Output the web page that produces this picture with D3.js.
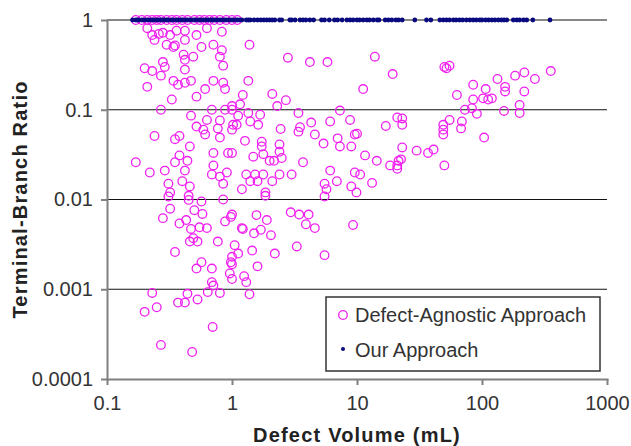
<!DOCTYPE html>
<html>
<head>
<meta charset="utf-8">
<script src="https://cdn.jsdelivr.net/npm/d3@7"></script>
<style>
  body { margin: 0; background: #fff; }
  svg { display: block; font-family: "Liberation Sans", Arial, sans-serif; }
  .axis path, .axis line { stroke: #808080; stroke-width: 2; }
  .axis text { font-size: 20px; fill: #333; }
  .axis-label { font-size: 20px; font-weight: bold; fill: #222; letter-spacing: 1.2px; }
  .legend-label { font-size: 20px; fill: #333; }
</style>
</head>
<body>
<div id="chart"></div>
<script>
'use strict';

const xTicks = [0.1, 1, 10, 100, 1000];
const yTicks = [0.0001, 0.001, 0.01, 0.1, 1];

// Defect-Agnostic Approach: [defect volume (mL), terminal-branch ratio]
const agnosticPoints = [
  [0.17, 1], [0.19, 1], [0.21, 1], [0.23, 1], [0.25, 1], [0.27, 1], [0.3, 1], [0.33, 1], [0.36, 1], [0.4, 1],
  [0.44, 1], [0.5, 1], [0.55, 1], [0.6, 1], [0.66, 1], [0.72, 1], [0.8, 1], [0.9, 1], [1.0, 1], [1.1, 1],
  [0.21, 0.81], [0.23, 0.68], [0.26, 0.70], [0.28, 0.72], [0.24, 0.60], [0.32, 0.68], [0.36, 0.76], [0.42, 0.76],
  [0.52, 0.68], [0.63, 0.81], [0.83, 0.74], [0.30, 0.53], [0.34, 0.50], [0.35, 0.52], [0.42, 0.60], [0.57, 0.50],
  [0.71, 0.53], [0.83, 0.46], [0.41, 0.41], [0.42, 0.36], [0.49, 0.39], [0.80, 0.39], [0.85, 0.31], [0.28, 0.34],
  [0.29, 0.30], [0.20, 0.29], [0.23, 0.27], [0.27, 0.24], [0.42, 0.28], [0.21, 0.18], [0.34, 0.21], [0.37, 0.19],
  [0.42, 0.20], [0.47, 0.21], [0.71, 0.21], [0.85, 0.20], [0.88, 0.17], [0.61, 0.17], [0.52, 0.14], [0.33, 0.13],
  [0.27, 0.10], [0.69, 0.10], [0.88, 0.10], [1.0, 0.10], [0.47, 0.086], [0.63, 0.077], [0.80, 0.076], [0.52, 0.065],
  [0.59, 0.060], [0.61, 0.053], [0.77, 0.062], [1.02, 0.068], [0.24, 0.051], [0.35, 0.047], [0.38, 0.051], [0.80, 0.049],
  [0.46, 0.039], [0.38, 0.031], [0.71, 0.033], [0.93, 0.033], [0.17, 0.026], [0.35, 0.026], [0.44, 0.027], [0.71, 0.024],
  [0.22, 0.020], [0.29, 0.021], [0.42, 0.021], [0.69, 0.019], [0.80, 0.018], [0.91, 0.020], [0.40, 0.016], [0.46, 0.014],
  [0.31, 0.015], [0.85, 0.015], [0.32, 0.012], [0.45, 0.011],
  [0.31, 0.0108], [0.45, 0.0099], [0.57, 0.0095], [0.85, 0.010], [0.32, 0.0079], [0.28, 0.0062], [0.50, 0.0076],
  [0.58, 0.0069], [0.38, 0.0054], [0.43, 0.0059], [0.47, 0.0047], [0.55, 0.0049], [0.63, 0.0048], [0.46, 0.0034],
  [0.49, 0.0037], [0.53, 0.0034], [0.77, 0.0034], [0.88, 0.0057], [0.98, 0.0064], [0.35, 0.0026], [0.57, 0.0020],
  [0.52, 0.0017], [0.69, 0.0017], [0.69, 0.0012], [0.71, 0.0011], [0.98, 0.0020], [0.96, 0.0015], [0.64, 0.00093],
  [0.80, 0.00091], [0.23, 0.00091], [0.44, 0.00089], [0.37, 0.00071], [0.42, 0.00071], [0.53, 0.00077], [0.25, 0.00063],
  [0.20, 0.00056], [0.70, 0.00038], [0.27, 0.00024], [0.48, 0.00020],
  [1.38, 0.53], [2.8, 0.38], [4.2, 0.34], [5.8, 0.34], [1.35, 0.21], [1.22, 0.146], [2.1, 0.15], [2.7, 0.128],
  [1.16, 0.115], [2.3, 0.11], [1.0, 0.11], [1.12, 0.086], [1.35, 0.092], [1.68, 0.088], [1.09, 0.068], [1.4, 0.074],
  [1.62, 0.068], [3.4, 0.092], [7.3, 0.098], [8.8, 0.077], [4.3, 0.072], [6.1, 0.074], [3.5, 0.064], [3.4, 0.057],
  [2.45, 0.061], [1.0, 0.060], [4.6, 0.053], [9.6, 0.053], [7.0, 0.048], [1.27, 0.045], [1.73, 0.044], [5.4, 0.042],
  [7.3, 0.039], [9.0, 0.039], [1.73, 0.039], [2.4, 0.041], [1.0, 0.033], [2.4, 0.034], [1.78, 0.032], [1.48, 0.030],
  [2.0, 0.027], [2.17, 0.027], [2.5, 0.029], [3.7, 0.026], [6.1, 0.021], [1.3, 0.019], [1.53, 0.019], [1.78, 0.019],
  [2.4, 0.019], [3.0, 0.019], [1.4, 0.016], [1.6, 0.016], [2.1, 0.016], [5.5, 0.015], [6.9, 0.016], [9.0, 0.014],
  [1.2, 0.013], [1.85, 0.012], [5.7, 0.013], [9.9, 0.012], [9.6, 0.020],
  [1.85, 0.011], [5.5, 0.0108], [1.0, 0.0068], [1.57, 0.0067], [1.9, 0.0059], [2.95, 0.0072], [3.45, 0.0068],
  [4.1, 0.0068], [3.9, 0.0053], [4.6, 0.0048], [9.3, 0.0052], [1.2, 0.0048], [1.22, 0.0047], [1.7, 0.0046],
  [1.5, 0.0042], [2.05, 0.0040], [1.05, 0.0031], [1.12, 0.0025], [1.0, 0.0023], [1.45, 0.0027], [2.2, 0.0025],
  [3.3, 0.0030], [5.5, 0.0024], [1.6, 0.0018], [1.0, 0.0019], [1.0, 0.0013], [1.25, 0.0014], [1.3, 0.0012], [1.38, 0.00088],
  [13.9, 0.39], [19.3, 0.25], [11.2, 0.17], [50, 0.30], [52, 0.29], [55, 0.31], [63, 0.146], [85, 0.19],
  [85, 0.13], [73, 0.10], [83, 0.104], [91, 0.09], [21, 0.082], [23, 0.08], [23, 0.068], [17, 0.066],
  [55, 0.077], [49, 0.068], [49, 0.06], [49, 0.053], [69, 0.074], [68, 0.062], [10, 0.054], [23, 0.038],
  [11.6, 0.031], [14.4, 0.027], [30, 0.035], [37, 0.033], [41, 0.036], [18.4, 0.024], [21, 0.024], [21.5, 0.027],
  [22.5, 0.028], [21, 0.022], [50, 0.024], [10.6, 0.019], [13.2, 0.0153],
  [355, 0.27], [184, 0.24], [218, 0.26], [265, 0.22], [133, 0.22], [153, 0.18], [153, 0.16], [107, 0.17],
  [218, 0.16], [102, 0.134], [112, 0.13], [120, 0.134], [200, 0.113], [150, 0.097], [200, 0.092], [104, 0.049]
];

// Our Approach: every defect ends at ratio 1
const ourPoints = [
  [0.16, 1], [0.17, 1], [0.175, 1], [0.18, 1], [0.19, 1], [0.2, 1], [0.21, 1], [0.22, 1], [0.23, 1], [0.24, 1],
  [0.25, 1], [0.26, 1], [0.27, 1], [0.28, 1], [0.29, 1], [0.3, 1], [0.31, 1], [0.33, 1], [0.34, 1], [0.36, 1],
  [0.37, 1], [0.39, 1], [0.4, 1], [0.42, 1], [0.44, 1], [0.46, 1], [0.48, 1], [0.5, 1], [0.52, 1], [0.55, 1],
  [0.57, 1], [0.6, 1], [0.62, 1], [0.65, 1], [0.68, 1], [0.7, 1], [0.73, 1], [0.76, 1], [0.8, 1], [0.83, 1],
  [0.87, 1], [0.9, 1], [0.95, 1], [1.0, 1], [1.05, 1], [1.1, 1], [1.15, 1], [1.2, 1], [1.3, 1], [1.35, 1],
  [1.4, 1], [1.5, 1], [1.6, 1], [1.7, 1], [1.8, 1], [1.9, 1], [2.0, 1], [2.1, 1], [2.2, 1], [2.4, 1],
  [2.5, 1], [2.9, 1], [3.0, 1], [3.2, 1], [3.5, 1], [3.7, 1], [3.9, 1], [4.2, 1], [4.5, 1],
  [5.2, 1], [5.5, 1], [6.0, 1], [6.6, 1], [7.0, 1], [7.6, 1],
  [8.3, 1], [8.8, 1], [9.3, 1], [10, 1], [10.5, 1], [11.2, 1], [12, 1], [12.6, 1], [13.5, 1], [14.5, 1], [15, 1],
  [16.8, 1], [17.8, 1], [19, 1], [20.5, 1], [21.5, 1], [23, 1], [29, 1], [36, 1], [39, 1],
  [46, 1], [49, 1], [52, 1], [55, 1], [59, 1], [62, 1], [66, 1], [70, 1], [75, 1], [80, 1], [85, 1],
  [90, 1], [96, 1], [100, 1], [107, 1], [113, 1], [120, 1], [127, 1], [135, 1], [143, 1], [150, 1], [158, 1],
  [178, 1], [190, 1], [200, 1], [215, 1], [228, 1], [255, 1], [350, 1]
];

const legendLabels = ['Defect-Agnostic Approach', 'Our Approach'];

const width = 631;
const height = 446;
const margin = {top: 20, right: 24, bottom: 67, left: 107};

const svg = d3.select('#chart').append('svg')
  .attr('width', width)
  .attr('height', height);

const x = d3.scaleLog()
  .domain([0.1, 1000])
  .range([margin.left, width - margin.right]);

const y = d3.scaleLog()
  .domain([0.0001, 1])
  .range([height - margin.bottom, margin.top]);

// horizontal gridlines at each decade
svg.append('g')
  .selectAll('line')
  .data(yTicks.slice(1))
  .enter().append('line')
  .attr('x1', x(0.1))
  .attr('x2', x(1000))
  .attr('y1', d => y(d))
  .attr('y2', d => y(d))
  .attr('stroke', '#111')
  .attr('stroke-width', 1.2);

svg.append('g')
  .attr('class', 'axis')
  .attr('transform', 'translate(0,' + (height - margin.bottom) + ')')
  .call(d3.axisBottom(x)
    .tickValues(xTicks)
    .tickFormat(d3.format('~g'))
    .tickSize(6)
    .tickSizeOuter(0)
    .tickPadding(11));

svg.append('g')
  .attr('class', 'axis')
  .attr('transform', 'translate(' + margin.left + ',0)')
  .call(d3.axisLeft(y)
    .tickValues(yTicks)
    .tickFormat(d3.format('~g'))
    .tickSize(6)
    .tickSizeOuter(0)
    .tickPadding(8));

svg.selectAll('.axis .domain').attr('stroke-linecap', 'square');

svg.append('g')
  .selectAll('circle')
  .data(agnosticPoints)
  .enter().append('circle')
  .attr('cx', d => x(d[0]))
  .attr('cy', d => y(d[1]))
  .attr('r', 4.3)
  .attr('fill', 'none')
  .attr('stroke', '#f020f0')
  .attr('stroke-width', 1.3);

svg.append('g')
  .selectAll('circle')
  .data(ourPoints)
  .enter().append('circle')
  .attr('cx', d => x(d[0]))
  .attr('cy', d => y(d[1]))
  .attr('r', 2.4)
  .attr('fill', '#0a0a80');

svg.append('text')
  .attr('class', 'axis-label')
  .attr('transform', 'translate(' + ((margin.left + width - margin.right) / 2) + ',' + 442 + ')')
  .style('text-anchor', 'middle')
  .text('Defect Volume (mL)');

svg.append('text')
  .attr('class', 'axis-label')
  .attr('transform', 'translate(27,' + ((margin.top + height - margin.bottom) / 2) + ') rotate(-90)')
  .style('text-anchor', 'middle')
  .text('Terminal-Branch Ratio');

// legend
const legend = svg.append('g')
  .attr('transform', 'translate(326,297)');

legend.append('rect')
  .attr('width', 274)
  .attr('height', 74)
  .attr('fill', '#fff')
  .attr('stroke', '#333')
  .attr('stroke-width', 1.5);

legend.append('circle')
  .attr('cx', 17)
  .attr('cy', 18)
  .attr('r', 4.3)
  .attr('fill', 'none')
  .attr('stroke', '#f020f0')
  .attr('stroke-width', 1.3);

legend.append('circle')
  .attr('cx', 17)
  .attr('cy', 52)
  .attr('r', 2)
  .attr('fill', '#0a0a80');

legend.selectAll('text')
  .data(legendLabels)
  .enter().append('text')
  .attr('class', 'legend-label')
  .attr('x', 29)
  .attr('y', (d, i) => 18 + i * 35)
  .attr('dy', '0.35em')
  .text(d => d);
</script>
</body>
</html>
